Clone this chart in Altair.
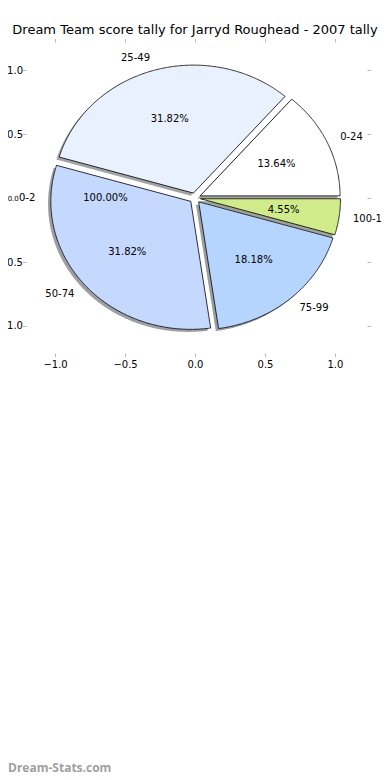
import math
import altair as alt
import pandas as pd

# ---- data ----
categories = ["0-2", "0-24", "25-49", "50-74", "75-99", "100-124"]
counts = [0, 3, 7, 7, 4, 1]
pct_text = ["100.00%", "13.64%", "31.82%", "31.82%", "18.18%", "4.55%"]
slice_colors = ["#ffffff", "#ffffff", "#eaf1fe", "#c5d8fe", "#b5d5fe", "#cfeb8a"]
zero_label_angle = 180.0  # where the empty "0-2" slice is labelled
title_text = "Dream Team score tally for Jarryd Roughead - 2007 tally"
tick_values = [-1.0, -0.5, 0.0, 0.5, 1.0]
watermark = "Dream-Stats.com"

explode = 0.04
shadow_dx, shadow_dy = -0.02, -0.02
label_dist, pct_dist = 1.1, 0.6

total = sum(counts)
poly_rows, shadow_rows, label_rows = [], [], []
theta = 0.0
for cat, n, pct, col in zip(categories, counts, pct_text, slice_colors):
    t1 = theta
    t2 = theta + 360.0 * n / total
    theta = t2
    mid = (t1 + t2) / 2 if n > 0 else zero_label_angle
    cx = explode * math.cos(math.radians(mid))
    cy = explode * math.sin(math.radians(mid))
    if n > 0:
        steps = max(2, int((t2 - t1) / 0.5))
        pts = [(cx, cy)]
        for k in range(steps + 1):
            a = math.radians(t1 + (t2 - t1) * k / steps)
            pts.append((cx + math.cos(a), cy + math.sin(a)))
        pts.append((cx, cy))
        for i, (px, py) in enumerate(pts):
            poly_rows.append({"cat": cat, "i": i, "x": px, "y": py})
            shadow_rows.append({"cat": cat, "i": i, "x": px + shadow_dx, "y": py + shadow_dy})
    lx = cx + label_dist * math.cos(math.radians(mid))
    ly = cy + label_dist * math.sin(math.radians(mid))
    qx = cx + pct_dist * math.cos(math.radians(mid))
    qy = cy + pct_dist * math.sin(math.radians(mid))
    label_rows.append({"cat": cat, "pct": pct, "lx": lx, "ly": ly, "qx": qx, "qy": qy,
                       "side": "left" if lx >= 0 else "right"})

poly = pd.DataFrame(poly_rows)
shadow = pd.DataFrame(shadow_rows)
labels = pd.DataFrame(label_rows)

def darker(hexcol):
    r, g, b = (int(hexcol[i:i + 2], 16) for i in (1, 3, 5))
    return "#%02x%02x%02x" % (int(r * 0.3), int(g * 0.3), int(b * 0.3))

shadow_colors = [darker(c) for c in slice_colors]

xs = alt.Scale(domain=[-1.229, 1.229], nice=False, zero=False)
ys = alt.Scale(domain=[-1.211, 1.219], nice=False, zero=False)

FONT = "DejaVu Sans"
tick_style = dict(values=tick_values, format=".1f", grid=False, domain=False,
                  tickColor="#bbbbbb", tickSize=3.5, tickWidth=1, title=None)

shadow_layer = alt.Chart(shadow).mark_line(strokeWidth=0, opacity=0.5).encode(
    x=alt.X("x:Q", scale=xs, axis=alt.Axis(orient="top", labels=False, **tick_style)),
    y=alt.Y("y:Q", scale=ys, axis=alt.Axis(orient="right", labels=False, **tick_style)),
    fill=alt.Fill("cat:N", scale=alt.Scale(domain=categories, range=shadow_colors), legend=None),
    detail="cat:N",
    order="i:Q",
)

wedge_layer = alt.Chart(poly).mark_line(stroke="#000000", strokeWidth=0.8).encode(
    x=alt.X("x:Q", scale=xs, axis=alt.Axis(
        orient="bottom", labelPadding=3, labelFont=FONT, labelFontSize=10,
        labelColor="#000000", **tick_style)),
    y=alt.Y("y:Q", scale=ys, axis=alt.Axis(
        orient="left", offset=-3,
        labelPadding=alt.condition("datum.value == 0", alt.value(4.2), alt.value(0)),
        labelFontSize=alt.condition("datum.value == 0", alt.value(7), alt.value(10)),
        labelFont=FONT, labelColor="#000000",
        **tick_style)),
    fill=alt.Fill("cat:N", scale=alt.Scale(domain=categories, range=slice_colors), legend=None),
    detail="cat:N",
    order="i:Q",
)

text_base = alt.Chart(labels)
lab_left = text_base.transform_filter(alt.datum.side == "left").mark_text(
    align="left", baseline="middle", font=FONT, fontSize=10, color="#000000"
).encode(x=alt.X("lx:Q", scale=xs, axis=None), y=alt.Y("ly:Q", scale=ys, axis=None), text="cat:N")
lab_right = text_base.transform_filter(alt.datum.side == "right").mark_text(
    align="right", baseline="middle", font=FONT, fontSize=10, color="#000000"
).encode(x=alt.X("lx:Q", scale=xs, axis=None), y=alt.Y("ly:Q", scale=ys, axis=None), text="cat:N")
pct_layer = text_base.mark_text(
    align="center", baseline="middle", font=FONT, fontSize=10, color="#000000"
).encode(x=alt.X("qx:Q", scale=xs, axis=None), y=alt.Y("qy:Q", scale=ys, axis=None), text="pct:N")

wm = alt.Chart(pd.DataFrame({"t": [watermark]})).mark_text(
    align="left", baseline="alphabetic", font="Open Sans", fontSize=12,
    fontWeight="bold", color="#a0a0a0"
).encode(x=alt.value(-15), y=alt.value(730), text="t:N")

chart = alt.layer(shadow_layer, wedge_layer, lab_left, lab_right, pct_layer, wm).resolve_axis(
    x="independent", y="independent"
).resolve_scale(fill="independent").properties(
    width=344, height=311,
    title=alt.TitleParams(title_text, font=FONT, fontSize=13, fontWeight="normal",
                          color="#000000", anchor="middle", offset=1),
    autosize=alt.AutoSizeParams(type="none"),
    padding={"left": 15, "top": 34, "right": 15, "bottom": 419},
).configure_view(stroke=None)

chart.save("out.html", embed_options={"renderer": "svg", "actions": False})
